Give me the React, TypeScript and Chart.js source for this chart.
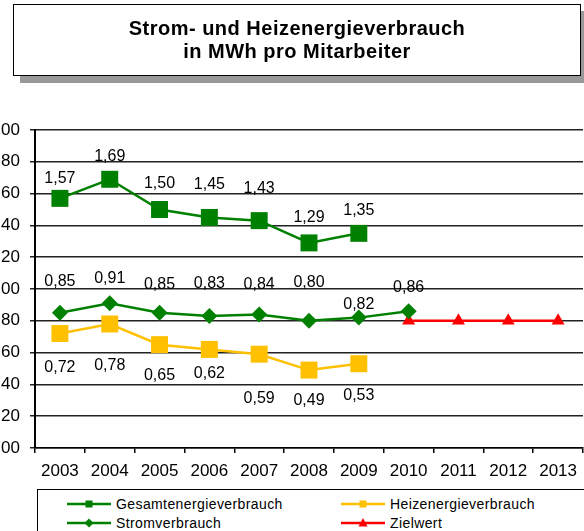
import React, { useEffect, useRef } from 'react';
import { Chart, registerables } from 'chart.js';

Chart.register(...registerables);

const FONT = "'Liberation Sans', Arial, Helvetica, sans-serif";

const years = ['2003', '2004', '2005', '2006', '2007', '2008', '2009', '2010', '2011', '2012', '2013'];
const gesamt = [1.57, 1.69, 1.5, 1.45, 1.43, 1.29, 1.35, null, null, null, null];
const heiz = [0.72, 0.78, 0.65, 0.62, 0.59, 0.49, 0.53, null, null, null, null];
const strom = [0.85, 0.91, 0.85, 0.83, 0.84, 0.8, 0.82, 0.86, null, null, null];
const ziel = [null, null, null, null, null, null, null, 0.8, 0.8, 0.8, 0.8];

const yMin = 0;
const yMax = 2;
const yStep = 0.2;

// label placement (vertical offset in px from the point)
const gesamtLabelDy = [-20, -23, -26, -33, -32, -25, -23];
const stromLabelDy = [-31, -25, -28, -32, -30, -38, -13, -24];
const heizLabelDy = [34, 42, 31, 24, 44, 31, 32];

const GREEN = '#008000';
const GOLD = '#FFC000';
const RED = '#FF0000';

const fmt = (v: number) => v.toFixed(2).replace('.', ',');

const labelPlugin = {
  id: 'valueLabels',
  afterDatasetsDraw(chart: any) {
    const ctx = chart.ctx;
    ctx.save();
    ctx.font = `16px ${FONT}`;
    ctx.fillStyle = '#000';
    ctx.textAlign = 'center';
    ctx.textBaseline = 'middle';
    chart.data.datasets.forEach((ds: any, di: number) => {
      if (!ds.labelDy) return;
      const meta = chart.getDatasetMeta(di);
      meta.data.forEach((pt: any, i: number) => {
        const v = ds.data[i];
        if (v == null) return;
        const dy = ds.labelDy[i] ?? 0;
        ctx.fillText(fmt(v), pt.x, pt.y + dy);
      });
    });
    ctx.restore();
  },
};

const legendItems = [
  { label: 'Gesamtenergieverbrauch', color: GREEN, marker: 'square' },
  { label: 'Heizenergieverbrauch', color: GOLD, marker: 'square' },
  { label: 'Stromverbrauch', color: GREEN, marker: 'diamond' },
  { label: 'Zielwert', color: RED, marker: 'triangle' },
];

function Sample({ color, marker }: { color: string; marker: string }) {
  return (
    <svg width={44} height={12} style={{ display: 'block' }}>
      <line x1={0} y1={6} x2={44} y2={6} stroke={color} strokeWidth={2.5} />
      {marker === 'square' && <rect x={18.5} y={2.5} width={7} height={7} fill={color} />}
      {marker === 'diamond' && <polygon points="22,1.5 26.5,6 22,10.5 17.5,6" fill={color} />}
      {marker === 'triangle' && <polygon points="22,1 26.5,9.5 17.5,9.5" fill={color} />}
    </svg>
  );
}

export default function App() {
  const canvasRef = useRef<HTMLCanvasElement | null>(null);

  useEffect(() => {
    if (!canvasRef.current) return;
    const chart = new Chart(canvasRef.current, {
      type: 'line',
      data: {
        labels: years,
        datasets: [
          {
            label: 'Gesamtenergieverbrauch',
            data: gesamt,
            borderColor: GREEN,
            backgroundColor: GREEN,
            borderWidth: 2.5,
            pointStyle: 'rect',
            pointRadius: 12,
            pointBorderWidth: 0,
            labelDy: gesamtLabelDy,
          } as any,
          {
            label: 'Heizenergieverbrauch',
            data: heiz,
            borderColor: GOLD,
            backgroundColor: GOLD,
            borderWidth: 2.5,
            pointStyle: 'rect',
            pointRadius: 12,
            pointBorderWidth: 0,
            labelDy: heizLabelDy,
          } as any,
          {
            label: 'Stromverbrauch',
            data: strom,
            borderColor: GREEN,
            backgroundColor: GREEN,
            borderWidth: 2.5,
            pointStyle: 'rectRot',
            pointRadius: 8,
            pointBorderWidth: 0,
            labelDy: stromLabelDy,
          } as any,
          {
            label: 'Zielwert',
            data: ziel,
            borderColor: RED,
            backgroundColor: RED,
            borderWidth: 2.5,
            pointStyle: 'triangle',
            pointRadius: 7.5,
            pointBorderWidth: 0,
          } as any,
        ],
      },
      options: {
        responsive: false,
        animation: false,
        layout: { padding: { top: 130, right: 10, bottom: 0, left: 0 } },
        plugins: {
          legend: { display: false },
          title: { display: false },
          tooltip: { enabled: false },
        },
        scales: {
          x: {
            type: 'category',
            offset: true,
            grid: {
              offset: true,
              drawOnChartArea: false,
              drawTicks: true,
              tickLength: 5,
              color: '#000',
              lineWidth: 1.5,
            },
            border: { display: true, color: '#000', width: 1.5 },
            ticks: {
              color: '#000',
              font: { family: FONT, size: 17 },
              padding: 8,
              maxRotation: 0,
              autoSkip: false,
            },
            afterFit: (scale: any) => {
              scale.height = 83;
            },
          },
          y: {
            min: yMin,
            max: yMax,
            grid: {
              color: '#222',
              lineWidth: 1.5,
              drawTicks: true,
              tickLength: 5,
            },
            border: { display: true, color: '#000', width: 2 },
            ticks: {
              stepSize: yStep,
              color: '#000',
              font: { family: FONT, size: 17 },
              padding: 10,
              callback: (v: any) => fmt(Number(v)),
            },
            afterFit: (scale: any) => {
              scale.width = 50;
            },
          },
        },
      } as any,
      plugins: [labelPlugin],
    });
    return () => chart.destroy();
  }, []);

  return (
    <div
      style={{
        position: 'fixed',
        left: 0,
        top: 0,
        width: 584,
        height: 531,
        overflow: 'hidden',
        background: '#fff',
      }}
    >
      <canvas
        ref={canvasRef}
        width={610}
        height={531}
        style={{ position: 'absolute', left: -15, top: 0, width: 610, height: 531 }}
      />
      <div
        style={{
          position: 'absolute',
          left: 13,
          top: 4,
          width: 566,
          height: 70,
          border: '1.5px solid #000',
          boxShadow: '7px 7px 0 #999',
          background: '#fff',
          display: 'flex',
          flexDirection: 'column',
          justifyContent: 'center',
          alignItems: 'center',
          fontFamily: FONT,
          fontWeight: 'bold',
          fontSize: 20,
          letterSpacing: 0.5,
          lineHeight: '23px',
          color: '#000',
          textAlign: 'center',
        }}
      >
        <div>Strom- und Heizenergieverbrauch</div>
        <div>in MWh pro Mitarbeiter</div>
      </div>
      <div
        style={{
          position: 'absolute',
          left: 37,
          top: 489,
          width: 600,
          height: 70,
          border: '1px solid #000',
          background: '#fff',
          fontFamily: FONT,
          fontSize: 14,
          color: '#000',
        }}
      >
        {legendItems.map((it, i) => {
          const col = i % 2;
          const row = Math.floor(i / 2);
          return (
            <div
              key={it.label}
              style={{
                position: 'absolute',
                left: col === 0 ? 29 : 303,
                top: row === 0 ? 5 : 24,
                display: 'flex',
                alignItems: 'center',
                height: 18,
                whiteSpace: 'nowrap',
              }}
            >
              <Sample color={it.color} marker={it.marker} />
              <span style={{ marginLeft: 5, letterSpacing: 0.4 }}>{it.label}</span>
            </div>
          );
        })}
      </div>
    </div>
  );
}
